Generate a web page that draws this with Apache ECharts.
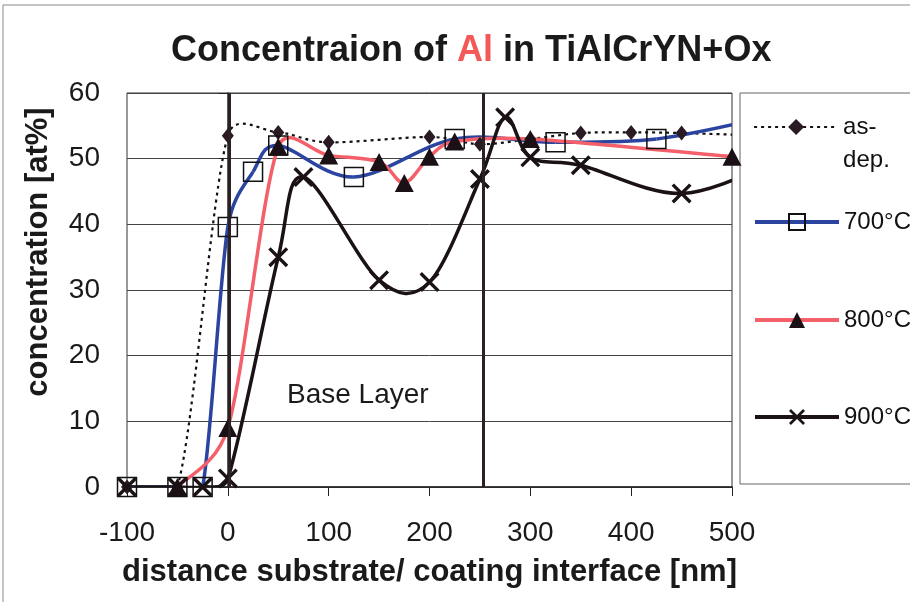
<!DOCTYPE html>
<html><head><meta charset="utf-8">
<script src="https://cdn.jsdelivr.net/npm/echarts@6/dist/echarts.min.js"></script>
<style>html,body{margin:0;padding:0;background:#fff}#c{width:910px;height:602px}</style>
</head><body><div id="c"></div>
<script>
// ---- data ----
const xTicks = [-100, 0, 100, 200, 300, 400, 500];
const yTicks = [0, 10, 20, 30, 40, 50, 60];
const seriesNames = ['as-dep.', '700°C', '800°C', '900°C'];

const asDepX = [-100, -50, 0, 50, 100, 200, 250, 300, 350, 400, 450, 550];
const asDepY = [0, 0, 53.5, 54, 52.5, 53.3, 52.2, 53, 53.9, 54, 53.9, 53.4];

const t700X = [-100, -50, -25, 0, 25, 50, 125, 225, 325, 425, 525];
const t700Y = [0, 0, 0, 39.6, 48, 52, 47.2, 53, 52.5, 53, 56];

const t800X = [-50, 0, 50, 100, 150, 175, 200, 225, 300, 500];
const t800Y = [0, 9, 51.8, 50.5, 49.5, 46.3, 50.3, 52.6, 53, 50.3];

const t900X = [-100, -50, -25, 0, 50, 75, 150, 200, 250, 275, 300, 350, 450, 550];
const t900Y = [0, 0, 0, 1.3, 35, 47.2, 31.5, 31.2, 46.9, 56.3, 50.2, 49, 44.7, 50];

const baseLayerBounds = [1.5, 253];

// ---- helpers ----
const zip = (xs, ys) => xs.map((x, i) => [x, ys[i]]);
const FONT = "'Liberation Sans', Arial, sans-serif";
const XMARK = 'path://M0,1.2 L1.2,0 L10,8.8 L8.8,10 Z M8.8,0 L10,1.2 L1.2,10 L0,8.8 Z';

const styles = [
  {stroke: '#111111', width: 2.2, dash: [3, 4]},
  {stroke: '#2a44a0', width: 3.5, dash: null},
  {stroke: '#f4606a', width: 3.5, dash: null},
  {stroke: '#1a1214', width: 3.5, dash: null}
];
const datasets = [zip(asDepX, asDepY), zip(t700X, t700Y), zip(t800X, t800Y), zip(t900X, t900Y)];

// Smoothed curve like a spreadsheet's smoothed line: bezier per segment,
// control arm = (next - prev) * f, f = min(1/6, half segment / neighbour distance)
function curveSeries(idx) {
  const st = styles[idx];
  const dist = (a, b) => Math.hypot(a[0] - b[0], a[1] - b[1]);
  return {
    name: seriesNames[idx] + ' curve', type: 'custom', data: datasets[idx], clip: true,
    encode: {x: 0, y: 1}, silent: true, z: 2,
    renderItem: function (params, api) {
      const i = params.dataIndexInside, n = params.dataInsideLength;
      if (i >= n - 1) return null;
      const pt = k => api.coord([api.value(0, k), api.value(1, k)]);
      const p1 = pt(i), p2 = pt(i + 1);
      const p0 = i > 0 ? pt(i - 1) : p1;
      const p3 = i + 2 < n ? pt(i + 2) : p2;
      const d12 = dist(p1, p2);
      const d02 = dist(p0, p2), d13 = dist(p1, p3);
      const f1 = d02 > 0 ? Math.min(1 / 6, 0.5 * d12 / d02) : 0;
      const f2 = d13 > 0 ? Math.min(1 / 6, 0.5 * d12 / d13) : 0;
      const c1 = [p1[0] + (p2[0] - p0[0]) * f1, p1[1] + (p2[1] - p0[1]) * f1];
      const c2 = [p2[0] - (p3[0] - p1[0]) * f2, p2[1] - (p3[1] - p1[1]) * f2];
      return {
        type: 'bezierCurve',
        shape: {x1: p1[0], y1: p1[1], x2: p2[0], y2: p2[1], cpx1: c1[0], cpy1: c1[1], cpx2: c2[0], cpy2: c2[1]},
        style: {stroke: st.stroke, lineWidth: st.width, fill: null, lineDash: st.dash}
      };
    }
  };
}

const chart = echarts.init(document.getElementById('c'), null, {renderer: 'canvas'});

const legendBase = {
  orient: 'vertical', left: 753, padding: 0, itemGap: 0,
  itemWidth: 84, itemHeight: 20, selectedMode: false,
  textStyle: {fontSize: 24, color: '#111', fontFamily: FONT, lineHeight: 30}
};
function legendFor(idx, top, extra) {
  return Object.assign({}, legendBase, {
    top: top, data: [seriesNames[idx]],
    lineStyle: {opacity: 1, width: idx === 0 ? 2.2 : 4}
  }, extra || {});
}

const option = {
  animation: false,
  backgroundColor: '#fff',
  title: {
    text: '{a|Concentraion of }{r|Al}{a| in TiAlCrYN+Ox}',
    left: 166, top: 28,
    textStyle: {
      rich: {
        a: {fontSize: 36, fontWeight: 'bold', color: '#1a1a1a', fontFamily: FONT},
        r: {fontSize: 36, fontWeight: 'bold', color: '#f25a5a', fontFamily: FONT}
      }
    }
  },
  grid: {left: 127, top: 93, right: 178, bottom: 115, show: true, borderColor: '#333', borderWidth: 1, backgroundColor: 'transparent'},
  legend: [
    legendFor(0, 77.5, {formatter: () => '\nas-\ndep.', textStyle: Object.assign({}, legendBase.textStyle, {lineHeight: 33})}),
    legendFor(1, 207),
    legendFor(2, 305),
    legendFor(3, 402)
  ],
  xAxis: {
    type: 'value', min: xTicks[0], max: xTicks[xTicks.length - 1], interval: 100,
    name: 'distance substrate/ coating interface [nm]', nameLocation: 'middle', nameGap: 70,
    nameTextStyle: {fontSize: 31, fontWeight: 'bold', color: '#1a1a1a', fontFamily: FONT},
    axisLine: {onZero: false, lineStyle: {color: '#222', width: 1.5}},
    axisTick: {show: true, inside: false, length: 9, lineStyle: {color: '#222', width: 1}},
    axisLabel: {fontSize: 28, color: '#1a1a1a', fontFamily: FONT, margin: 32},
    splitLine: {show: false}
  },
  yAxis: {
    type: 'value', min: yTicks[0], max: yTicks[yTicks.length - 1], interval: 10,
    name: 'concentration [at%]', nameLocation: 'middle', nameGap: 73, nameRotate: 90,
    nameTextStyle: {fontSize: 31, fontWeight: 'bold', color: '#1a1a1a', fontFamily: FONT, padding: [0, 0, 0, 76]},
    axisLine: {show: true, lineStyle: {color: '#222', width: 1.5}},
    axisTick: {show: true, inside: false, length: 9, lineStyle: {color: '#222', width: 1}},
    axisLabel: {fontSize: 28, color: '#1a1a1a', fontFamily: FONT, margin: 27},
    splitLine: {show: true, lineStyle: {color: '#444', width: 1}}
  },
  series: [
    curveSeries(0), curveSeries(1), curveSeries(2), curveSeries(3),
    {
      name: seriesNames[0], type: 'line', data: datasets[0], showAllSymbol: true, z: 3,
      symbol: 'diamond', symbolSize: [12, 15],
      lineStyle: {color: styles[0].stroke, width: styles[0].width, type: styles[0].dash, opacity: 0},
      itemStyle: {color: '#2a1a24'}
    },
    {
      name: seriesNames[1], type: 'line', data: datasets[1], showAllSymbol: true, z: 3,
      symbol: 'rect', symbolSize: 19,
      lineStyle: {color: styles[1].stroke, width: styles[1].width, opacity: 0},
      itemStyle: {color: 'transparent', borderColor: '#111', borderWidth: 1.5}
    },
    {
      name: seriesNames[2], type: 'line', data: datasets[2], showAllSymbol: true, z: 3,
      symbol: 'triangle', symbolSize: [19, 18],
      lineStyle: {color: styles[2].stroke, width: styles[2].width, opacity: 0},
      itemStyle: {color: '#1a1016'}
    },
    {
      name: seriesNames[3], type: 'line', data: datasets[3], showAllSymbol: true, z: 3,
      symbol: XMARK, symbolSize: 20,
      lineStyle: {color: styles[3].stroke, width: styles[3].width, opacity: 0},
      itemStyle: {color: '#1a1214'}
    },
    {
      name: 'base layer bounds', type: 'line', data: [], z: 4,
      markLine: {
        silent: true, symbol: 'none', label: {show: false},
        lineStyle: {color: '#2b2024', width: 3, type: 'solid'},
        data: baseLayerBounds.map(v => ({xAxis: v}))
      }
    }
  ],
  graphic: [
    {type: 'rect', shape: {x: 3, y: 5, width: 930, height: 620}, style: {fill: 'none', stroke: '#888', lineWidth: 1}, silent: true},
    {type: 'rect', shape: {x: 740, y: 93, width: 190, height: 391}, style: {fill: 'none', stroke: '#666', lineWidth: 1}, silent: true},
    {type: 'text', left: 287, top: 381, style: {text: 'Base Layer', font: "28px 'Liberation Sans', Arial, sans-serif", fill: '#1a1a1a'}, silent: true}
  ]
};
chart.setOption(option);
</script></body></html>
